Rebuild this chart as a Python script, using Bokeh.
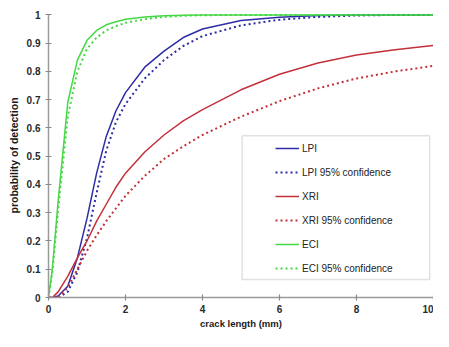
from bokeh.plotting import figure
from bokeh.models import (Range1d, FixedTicker, CustomJSTickFormatter, Legend,
                          LegendItem, BoxAnnotation)
from bokeh.embed import file_html
from bokeh.resources import INLINE

# crack length (mm)
x = [0, 0.1, 0.25, 0.5, 0.75, 1, 1.25, 1.5, 1.75, 2, 2.5, 3, 3.5, 4, 5, 6, 7, 8, 9, 10]

lpi      = [0, 0, 0.005, 0.04, 0.14, 0.28, 0.44, 0.57, 0.66, 0.725, 0.815, 0.872, 0.92, 0.95, 0.98, 0.992, 0.998, 1.0, 1.0, 1.0]
lpi_conf = [0, 0, 0.0, 0.02, 0.09, 0.21, 0.37, 0.52, 0.62, 0.685, 0.775, 0.84, 0.89, 0.925, 0.963, 0.983, 0.993, 0.998, 1.0, 1.0]
xri      = [0, 0.0, 0.02, 0.075, 0.14, 0.20, 0.27, 0.33, 0.39, 0.44, 0.515, 0.575, 0.625, 0.665, 0.735, 0.79, 0.83, 0.858, 0.877, 0.892]
xri_conf = [0, 0.0, 0.0, 0.035, 0.10, 0.165, 0.22, 0.27, 0.315, 0.36, 0.43, 0.49, 0.535, 0.575, 0.64, 0.695, 0.74, 0.775, 0.80, 0.82]
eci      = [0, 0.10, 0.34, 0.69, 0.84, 0.91, 0.945, 0.965, 0.976, 0.985, 0.993, 0.997, 0.999, 1.0, 1.0, 1.0, 1.0, 1.0, 1.0, 1.0]
eci_conf = [0, 0.09, 0.31, 0.64, 0.80, 0.88, 0.92, 0.945, 0.96, 0.972, 0.985, 0.993, 0.997, 0.999, 1.0, 1.0, 1.0, 1.0, 1.0, 1.0]

x_ticks = [0, 2, 4, 6, 8, 10]
y_ticks = [0, 0.1, 0.2, 0.3, 0.4, 0.5, 0.6, 0.7, 0.8, 0.9, 1]

series_labels = ["LPI", "LPI 95% confidence", "XRI", "XRI 95% confidence", "ECI", "ECI 95% confidence"]

BLUE = "#2c2ca6"
RED = "#c4303a"
GREEN = "#44d844"
FONT = "Liberation Sans"

p = figure(width=433, height=331, output_backend="svg", toolbar_location=None,
           x_range=Range1d(0, 10), y_range=Range1d(0, 1.005),
           min_border_left=48, min_border_right=0, min_border_top=13, min_border_bottom=33)
p.grid.visible = False
p.outline_line_color = None
p.background_fill_color = "white"
p.border_fill_color = "white"

for ax in (p.xaxis[0], p.yaxis[0]):
    ax.axis_line_color = "#9a9a9a"
    ax.axis_line_width = 1.5
    ax.major_tick_line_color = "#8a8a8a"
    ax.major_tick_line_width = 1.2
    ax.major_tick_in = 3
    ax.major_tick_out = 3
    ax.minor_tick_line_color = None
    ax.major_label_text_font = FONT
    ax.major_label_text_font_style = "bold"
    ax.major_label_text_font_size = "10px"
    ax.major_label_text_color = "#2a2a2a"
    ax.axis_label_text_font = FONT
    ax.axis_label_text_font_style = "bold"
    ax.axis_label_text_color = "#1a1a1a"
    ax.formatter = CustomJSTickFormatter(code="return Number(tick.toFixed(2)).toString();")

p.xaxis.ticker = FixedTicker(ticks=x_ticks)
p.yaxis.ticker = FixedTicker(ticks=y_ticks)
p.yaxis.bounds = (0, 1)
p.xaxis.axis_label = "crack length (mm)"
p.yaxis.axis_label = "probability of detection"
p.xaxis.axis_label_text_font_size = "9.5px"
p.yaxis.axis_label_text_font_size = "10.5px"
p.xaxis.major_label_standoff = 4
p.xaxis.axis_label_standoff = 2
p.yaxis.major_label_standoff = 5
p.yaxis.axis_label_standoff = 4

r1 = p.line(x, lpi, line_color=BLUE, line_width=1.5)
r2 = p.line(x, lpi_conf, line_color=BLUE, line_width=2, line_dash="2 3")
r3 = p.line(x, xri, line_color=RED, line_width=1.5)
r4 = p.line(x, xri_conf, line_color=RED, line_width=2, line_dash="2 3")
r5 = p.line(x, eci, line_color=GREEN, line_width=1.5)
r6 = p.line(x, eci_conf, line_color=GREEN, line_width=2, line_dash="2 3")

# legend frame (data-space placement of the decorative box)
box = BoxAnnotation(left=5.03, right=9.9, bottom=0.064, top=0.572,
                    fill_color="white", fill_alpha=1.0,
                    line_color="#9a9a9a", line_width=1.5)
p.add_layout(box)

items = [LegendItem(label=lab, renderers=[r]) for lab, r in
         zip(series_labels, [r1, r2, r3, r4, r5, r6])]
legend = Legend(items=items, location=(224, 16), orientation="vertical",
                margin=0, padding=3, spacing=4,
                glyph_width=24, glyph_height=20, label_height=20,
                label_standoff=3,
                label_text_font=FONT, label_text_font_size="10px",
                label_text_color="#222222",
                background_fill_alpha=0, border_line_alpha=0)
p.add_layout(legend)

open("out.html", "w").write(file_html(p, INLINE))
